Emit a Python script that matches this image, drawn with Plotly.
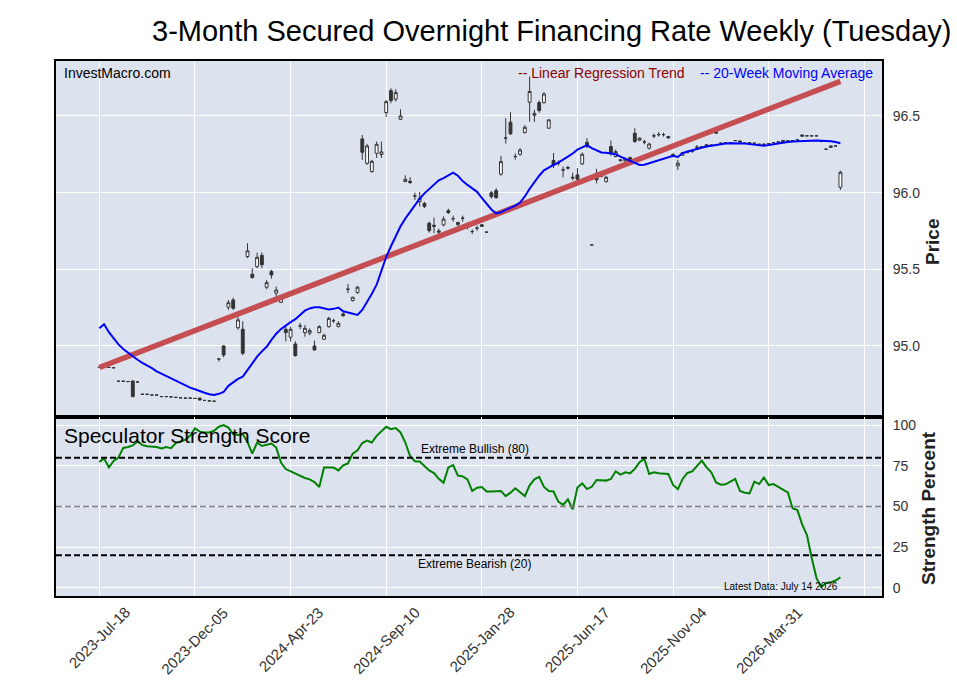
import plotly.graph_objects as go

# ---------------- data ----------------
tick_labels = ["2023-Jul-18", "2023-Dec-05", "2024-Apr-23", "2024-Sep-10",
               "2025-Jan-28", "2025-Jun-17", "2025-Nov-04", "2026-Mar-31"]

open_ = [94.86, 94.86, 94.86, 94.858, 94.77, 94.77, 94.768, 94.772, 94.765, 94.685,
         94.685, 94.68, 94.68, 94.67, 94.67, 94.668, 94.665, 94.662, 94.66, 94.66,
         94.658, 94.66, 94.645, 94.642, 94.64, 94.915, 95.0, 95.253, 95.30, 95.119,
         95.109, 95.583, 95.468, 95.517, 95.591, 95.383, 95.486, 95.344, 95.285, 95.109,
         95.057, 95.013, 95.13, 95.087, 95.083, 95.0, 95.087, 95.044, 95.126, 95.165,
         95.126, 95.209, 95.37, 95.296, 95.348, 96.35, 96.191, 96.137, 96.256, 96.248,
         96.522, 96.665, 96.609, 96.478, 96.072, 96.074, 95.978, 95.941, 95.93, 95.80,
         95.787, 95.75, 95.789, 95.882, 95.83, 95.791, 95.833, 95.789, 95.746, 95.768,
         95.79, 95.742, 95.999, 96.013, 96.12, 96.355, 96.459, 96.235, 96.25, 96.391,
         96.589, 96.504, 96.587, 96.587, 96.42, 96.209, 96.19, 96.148, 96.163, 96.10,
         96.115, 96.187, 96.328, 95.659, 96.126, 96.105, 96.072, 96.30, 96.235, 96.214,
         96.207, 96.228, 96.387, 96.342, 96.33, 96.29, 96.37, 96.378, 96.378, 96.365,
         96.235, 96.174, 96.244, 96.261, 96.267, 96.296, 96.30, 96.312, 96.309, 96.40,
         96.322, 96.326, 96.326, 96.339, 96.337, 96.322, 96.326, 96.322, 96.315, 96.315,
         96.32, 96.326, 96.33, 96.34, 96.337, 96.339, 96.343, 96.376, 96.37, 96.37,
         96.37, 96.333, 96.283, 96.304, 96.304, 96.035]

high = [94.86, 94.86, 94.86, 94.858, 94.77, 94.77, 94.768, 94.775, 94.765, 94.685,
        94.685, 94.68, 94.68, 94.67, 94.67, 94.668, 94.665, 94.662, 94.66, 94.66,
        94.658, 94.662, 94.645, 94.642, 94.64, 94.915, 95.005, 95.30, 95.315, 95.189,
        95.16, 95.67, 95.507, 95.608, 95.61, 95.43, 95.497, 95.387, 95.33, 95.126,
        95.126, 95.03, 95.15, 95.137, 95.115, 95.035, 95.135, 95.08, 95.19, 95.178,
        95.16, 95.22, 95.405, 95.32, 95.392, 96.376, 96.317, 96.213, 96.333, 96.333,
        96.603, 96.68, 96.674, 96.543, 96.113, 96.10, 96.0, 96.005, 95.94, 95.81,
        95.837, 95.765, 95.845, 95.895, 95.85, 95.81, 95.85, 95.805, 95.76, 95.785,
        95.795, 95.742, 96.01, 96.03, 96.24, 96.485, 96.524, 96.255, 96.29, 96.44,
        96.757, 96.54, 96.60, 96.655, 96.48, 96.258, 96.21, 96.17, 96.175, 96.13,
        96.16, 96.262, 96.355, 95.659, 96.155, 96.12, 96.11, 96.34, 96.28, 96.22,
        96.23, 96.235, 96.42, 96.36, 96.345, 96.325, 96.385, 96.395, 96.39, 96.37,
        96.255, 96.213, 96.265, 96.261, 96.267, 96.31, 96.30, 96.315, 96.309, 96.402,
        96.322, 96.326, 96.326, 96.339, 96.338, 96.322, 96.327, 96.322, 96.315, 96.315,
        96.32, 96.326, 96.33, 96.341, 96.337, 96.339, 96.343, 96.377, 96.37, 96.37,
        96.37, 96.333, 96.283, 96.305, 96.304, 96.143]

low = [94.86, 94.86, 94.86, 94.858, 94.77, 94.77, 94.768, 94.665, 94.765, 94.685,
       94.685, 94.68, 94.68, 94.67, 94.67, 94.668, 94.665, 94.662, 94.66, 94.66,
       94.658, 94.645, 94.645, 94.642, 94.64, 94.898, 94.926, 95.235, 95.235, 95.106,
       94.94, 95.572, 95.44, 95.507, 95.507, 95.37, 95.44, 95.32, 95.28, 95.03,
       95.03, 94.93, 95.11, 95.06, 95.07, 94.97, 95.083, 95.04, 95.12, 95.15,
       95.122, 95.19, 95.345, 95.29, 95.34, 96.213, 96.18, 96.13, 96.226, 96.226,
       96.493, 96.583, 96.594, 96.474, 96.068, 96.056, 95.952, 95.909, 95.90, 95.739,
       95.735, 95.73, 95.78, 95.86, 95.81, 95.78, 95.81, 95.76, 95.73, 95.75,
       95.775, 95.742, 95.96, 95.96, 96.11, 96.32, 96.376, 96.215, 96.24, 96.385,
       96.463, 96.46, 96.52, 96.58, 96.415, 96.16, 96.175, 96.10, 96.15, 96.08,
       96.06, 96.18, 96.29, 95.659, 96.06, 96.10, 96.065, 96.24, 96.23, 96.205,
       96.20, 96.20, 96.325, 96.335, 96.315, 96.28, 96.355, 96.365, 96.365, 96.35,
       96.23, 96.148, 96.24, 96.261, 96.267, 96.285, 96.30, 96.305, 96.309, 96.385,
       96.322, 96.326, 96.326, 96.339, 96.33, 96.322, 96.318, 96.322, 96.315, 96.315,
       96.32, 96.326, 96.33, 96.333, 96.337, 96.339, 96.343, 96.368, 96.37, 96.37,
       96.37, 96.333, 96.283, 96.296, 96.304, 96.017]

close = [94.86, 94.86, 94.86, 94.858, 94.77, 94.77, 94.768, 94.67, 94.765, 94.685,
         94.685, 94.68, 94.68, 94.67, 94.67, 94.668, 94.665, 94.662, 94.66, 94.66,
         94.658, 94.648, 94.645, 94.642, 94.64, 94.915, 94.941, 95.282, 95.246, 95.17,
         94.953, 95.62, 95.446, 95.578, 95.53, 95.413, 95.463, 95.365, 95.31, 95.087,
         95.109, 94.937, 95.13, 95.115, 95.10, 94.974, 95.126, 95.07, 95.18, 95.165,
         95.148, 95.198, 95.37, 95.318, 95.383, 96.263, 96.304, 96.204, 96.315, 96.265,
         96.593, 96.60, 96.652, 96.50, 96.087, 96.066, 95.978, 95.963, 95.909, 95.752,
         95.78, 95.743, 95.827, 95.87, 95.83, 95.805, 95.833, 95.789, 95.746, 95.768,
         95.78, 95.742, 95.974, 95.967, 96.202, 96.355, 96.383, 96.235, 96.278, 96.426,
         96.659, 96.517, 96.535, 96.643, 96.474, 96.179, 96.19, 96.148, 96.16, 96.096,
         96.087, 96.25, 96.30, 95.659, 96.083, 96.113, 96.10, 96.257, 96.267, 96.208,
         96.22, 96.207, 96.333, 96.355, 96.33, 96.317, 96.37, 96.378, 96.378, 96.358,
         96.25, 96.192, 96.261, 96.261, 96.267, 96.296, 96.30, 96.305, 96.309, 96.387,
         96.322, 96.326, 96.326, 96.339, 96.33, 96.322, 96.318, 96.322, 96.315, 96.315,
         96.32, 96.326, 96.33, 96.333, 96.337, 96.339, 96.343, 96.368, 96.37, 96.37,
         96.37, 96.333, 96.283, 96.296, 96.304, 96.133]

ma20 = [95.115, 95.141, 95.09, 95.05, 95.01, 94.98, 94.955, 94.93, 94.91, 94.89,
        94.875, 94.855, 94.835, 94.82, 94.80, 94.785, 94.77, 94.755, 94.74, 94.728,
        94.718, 94.705, 94.695, 94.685, 94.68, 94.688, 94.70, 94.74, 94.765, 94.785,
        94.80, 94.845, 94.89, 94.93, 94.965, 94.995, 95.04, 95.08, 95.11, 95.135,
        95.155, 95.175, 95.20, 95.23, 95.245, 95.252, 95.252, 95.245, 95.238, 95.242,
        95.25, 95.226, 95.218, 95.21, 95.202, 95.235, 95.285, 95.34, 95.40, 95.485,
        95.58, 95.65, 95.72, 95.78, 95.83, 95.875, 95.915, 95.96, 95.995, 96.025,
        96.055, 96.08, 96.095, 96.115, 96.13, 96.11, 96.075, 96.05, 96.03, 96.005,
        95.965, 95.93, 95.89, 95.865, 95.872, 95.887, 95.90, 95.915, 95.935, 95.975,
        96.025, 96.07, 96.11, 96.145, 96.165, 96.18, 96.195, 96.213, 96.235, 96.255,
        96.28, 96.295, 96.31, 96.29, 96.275, 96.262, 96.26, 96.257, 96.25, 96.235,
        96.22, 96.205, 96.19, 96.18, 96.182, 96.192, 96.202, 96.212, 96.222, 96.235,
        96.24, 96.232, 96.258, 96.268, 96.277, 96.285, 96.292, 96.30, 96.305, 96.31,
        96.317, 96.32, 96.322, 96.322, 96.322, 96.32, 96.316, 96.312, 96.308, 96.306,
        96.31, 96.316, 96.322, 96.326, 96.33, 96.333, 96.335, 96.337, 96.338, 96.339,
        96.339, 96.338, 96.337, 96.335, 96.33, 96.322]

strength = [77.4, 79.5, 74, 78, 80, 86, 86.6, 87.5, 90, 87.7,
            87, 86.8, 86.6, 85.6, 86.6, 85.8, 89, 89.9, 91, 93.5,
            98, 96, 95.5, 95.5, 96.5, 99, 100, 98.5, 94.5, 94,
            94.5, 89.5, 82.5, 89.3, 87.2, 87.9, 88.7, 86.2, 77, 73,
            71.5, 70.2, 69, 67.5, 66.7, 65, 62, 73.9, 74, 73.9,
            72.2, 75.3, 76.5, 82.5, 84.5, 89, 90.5, 89.3, 93.4, 96,
            99, 97.5, 98.2, 95.5, 89.3, 81, 77.8, 77.6, 75, 72.2,
            70.5, 67, 64.6, 74, 75.5, 69, 68.5, 66.7, 59.5, 61.5,
            62, 59.2, 59.2, 59.2, 59.5, 56.4, 58.5, 61.2, 58.5, 56.4,
            63, 66.7, 68.2, 62, 59.5, 59.2, 53, 51, 54.4, 48.3,
            61.7, 64.2, 60.7, 62.1, 66.3, 66.2, 65.9, 66.9, 71.6, 69.6,
            71, 70.4, 73.1, 77.2, 79.3, 70, 71, 70.4, 70.2, 70,
            63.2, 60.7, 66.9, 70.6, 71.6, 75, 78.2, 74, 71, 64.8,
            63.4, 63.6, 65.5, 66.9, 59.5, 58.5, 58.1, 65.3, 63.8, 67.8,
            63.2, 63.8, 62.1, 60.1, 58.6, 48.9, 47.8, 39, 32.4, 18.4,
            6, 0.5, 3, 3.5, 4.5, 6.5]

trend_ends = [94.86, 96.725]          # linear regression trend, first and last week
extreme_levels = [80, 50, 20]
latest_label = "Latest Data: July 14 2026"

# ---------------- figure ----------------
n = len(close)
x = list(range(n))
tick_step = 20
tickvals = list(range(0, n + tick_step, tick_step))

BG = "#DDE3EE"
split = 0.3346
fig = go.Figure()

fig.add_trace(go.Candlestick(
    x=x, open=open_, high=high, low=low, close=close,
    increasing=dict(line=dict(color="#333333", width=1), fillcolor="white"),
    decreasing=dict(line=dict(color="#333333", width=1), fillcolor="#333333"),
    whiskerwidth=0, showlegend=False, xaxis="x", yaxis="y"))

fig.add_trace(go.Scatter(x=[x[0], x[-1]], y=trend_ends, mode="lines",
                         line=dict(color="#C44E52", width=5.5),
                         showlegend=False, xaxis="x", yaxis="y"))
fig.add_trace(go.Scatter(x=x, y=ma20, mode="lines",
                         line=dict(color="#0000FF", width=2),
                         showlegend=False, xaxis="x", yaxis="y"))
fig.add_trace(go.Scatter(x=x, y=strength, mode="lines",
                         line=dict(color="#008000", width=2),
                         showlegend=False, xaxis="x2", yaxis="y2"))

axis_common = dict(showline=True, linecolor="black", linewidth=2, mirror=True,
                   showgrid=True, gridcolor="white", gridwidth=1.3, zeroline=False)
xr = [-9.06, 163.7]
tickfont = dict(family="Liberation Sans, Arial, sans-serif", size=14, color="#333333")

fig.update_layout(
    width=957, height=694,
    margin=dict(l=56, r=75, t=61, b=98),
    paper_bgcolor="white", plot_bgcolor=BG,
    boxgap=0.15,
    xaxis=dict(domain=[0, 1], anchor="y", range=xr, tickmode="array",
               tickvals=tickvals, showticklabels=False, ticks="",
               rangeslider=dict(visible=False), **axis_common),
    xaxis2=dict(domain=[0, 1], anchor="y2", range=xr, matches="x", tickmode="array",
                tickvals=tickvals, showticklabels=False, ticks="", **axis_common),
    yaxis=dict(domain=[split, 1], anchor="x", side="right", range=[94.537, 96.858],
               tickmode="array", tickvals=[95.0, 95.5, 96.0, 96.5],
               ticktext=["95.0", "95.5", "96.0", "96.5"], ticks="",
               ticklabelstandoff=6, tickfont=tickfont, **axis_common),
    yaxis2=dict(domain=[0, split], anchor="x2", side="right", range=[-5, 105],
                tickmode="array", tickvals=[0, 25, 50, 75, 100], ticks="",
                ticklabelstandoff=6, tickfont=tickfont, **axis_common),
    font=dict(family="Liberation Sans, Arial, sans-serif", color="black"),
)

# threshold lines in the strength panel
for lvl in extreme_levels:
    mid = lvl == 50
    fig.add_shape(type="line", xref="x2 domain", yref="y2", x0=0, x1=1, y0=lvl, y1=lvl,
                  line=dict(color="#808080" if mid else "black",
                            width=1.6 if mid else 2, dash="6px,3px"))

ann = []
# x tick labels, centred on the ticks and rotated 45 degrees
for pos, lab in zip(tickvals, tick_labels):
    ann.append(dict(x=pos, xref="x2", y=0, yref="paper", yanchor="top", xanchor="center",
                    text=lab, textangle=-45, showarrow=False, yshift=-5,
                    font=dict(size=15, color="#333333")))

ann += [
    dict(x=(150 - 56) / 826, xref="paper", y=1 + (61 - 31) / 535, yref="paper",
         xanchor="left", yanchor="middle", showarrow=False,
         text="3-Month Secured Overnight Financing Rate Weekly (Tuesday)",
         font=dict(size=29, color="black")),
    dict(x=0.007, xref="paper", y=1 - 2 / 535, yref="paper", xanchor="left", yanchor="top",
         showarrow=False, text="InvestMacro.com", font=dict(size=14, color="black")),
    dict(x=0.764, xref="paper", y=1 - 2 / 535, yref="paper", xanchor="right", yanchor="top",
         showarrow=False, text="-- Linear Regression Trend", font=dict(size=14, color="#8B0000")),
    dict(x=0.992, xref="paper", y=1 - 2 / 535, yref="paper", xanchor="right", yanchor="top",
         showarrow=False, text="-- 20-Week Moving Average", font=dict(size=14, color="#0000FF")),
    dict(x=0.007, xref="paper", y=split - 5 / 535, yref="paper", xanchor="left", yanchor="top",
         showarrow=False, text="Speculator Strength Score", font=dict(size=21, color="black")),
    dict(x=0.507, xref="paper", y=80, yref="y2", xanchor="center", yanchor="bottom",
         showarrow=False, text="Extreme Bullish (80)", font=dict(size=12, color="black")),
    dict(x=0.507, xref="paper", y=20, yref="y2", xanchor="center", yanchor="top",
         showarrow=False, text="Extreme Bearish (20)", font=dict(size=12, color="black")),
    dict(x=x[-1], xref="x2", y=1, yref="y2", xanchor="right", yanchor="middle",
         showarrow=False, text=latest_label, font=dict(size=10, color="black")),
    dict(x=(933 - 56) / 826, xref="paper", y=(596 - 242) / 535, yref="paper",
         xanchor="center", yanchor="middle", textangle=-90, showarrow=False,
         text="<b>Price</b>", font=dict(size=19, color="#222222")),
    dict(x=(928 - 56) / 826, xref="paper", y=(596 - 508) / 535, yref="paper",
         xanchor="center", yanchor="middle", textangle=-90, showarrow=False,
         text="<b>Strength Percent</b>", font=dict(size=19, color="#222222")),
]
fig.update_layout(annotations=ann)

fig.write_html("out.html")
